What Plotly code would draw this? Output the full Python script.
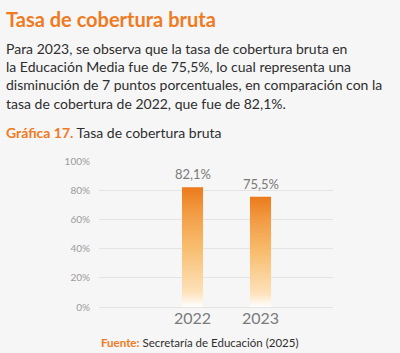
import plotly.graph_objects as go

years = [2022, 2023]
year_labels = ["2022", "2023"]
values = [82.1, 75.5]
value_labels = ["82,1%", "75,5%"]
y_ticks = [0, 20, 40, 60, 80, 100]
y_tick_labels = ["0%", "20%", "40%", "60%", "80%", "100%"]

W, H = 400, 353
L, R, T, B = 99, 67, 160.5, 46
pw, ph = W - L - R, H - T - B

def px(xp):
    return (xp - L) / pw

def py(yp):
    return (H - B - yp) / ph

BG = "#f6f6f6"
ORANGE = "#ef7a22"
half = 0.155

fig = go.Figure()
for x, v in zip(years, values):
    fig.add_trace(go.Scatter(
        x=[x - half, x - half, x + half, x + half, x - half],
        y=[0, v, v, 0, 0],
        mode="lines", line=dict(width=0), fill="toself",
        fillgradient=dict(type="vertical", colorscale=[
            [0.0, "rgba(255,255,255,0.9)"],
            [0.12, "#fde2bb"],
            [0.5, "#f7bd6e"],
            [0.8, "#f29a42"],
            [1.0, "#eb7a1a"],
        ]),
        hoverinfo="skip", showlegend=False,
    ))

anns = []
for x, v, t in zip(years, values, value_labels):
    anns.append(dict(x=x, y=v, xref="x", yref="y", text=t, showarrow=False,
                     xanchor="center", yanchor="bottom", yshift=3,
                     font=dict(family="Lato", size=13, color="#7a7a7a")))

texts = [
    dict(x=px(4), y=py(18), text="<b>Tasa de cobertura bruta</b>",
         font=dict(family="Lato", size=20, color=ORANGE)),
    dict(x=px(4), y=py(75.5),
         text=("Para 2023, se observa que la tasa de cobertura bruta en<br>"
               "la Educación Media fue de 75,5%, lo cual representa una<br>"
               "disminución de 7 puntos porcentuales, en comparación con la<br>"
               "tasa de cobertura de 2022, que fue de 82,1%."),
         align="left", font=dict(family="Lato", size=14, color="#2e2e2e")),
    dict(x=px(4), y=py(131.5),
         text=f"<b><span style='color:{ORANGE}'>Gráfica 17.</span></b> Tasa de cobertura bruta",
         font=dict(family="Lato", size=14, color="#2e2e2e")),
    dict(x=px(200), y=py(343), xanchor="center",
         text=f"<b><span style='color:{ORANGE}'>Fuente:</span></b> Secretaría de Educación (2025)",
         font=dict(family="Lato", size=11.5, color="#2e2e2e")),
]
for a in texts:
    a.setdefault("xanchor", "left")
    a.update(xref="paper", yref="paper", yanchor="middle", showarrow=False)
anns += texts

fig.update_layout(
    width=W, height=H, autosize=False,
    margin=dict(l=L, r=R, t=T, b=B, pad=0),
    paper_bgcolor=BG, plot_bgcolor=BG,
    annotations=anns,
    xaxis=dict(range=[2020.625, 2024.066], tickvals=years, ticktext=year_labels,
               showgrid=False, zeroline=False, showline=False, ticks="",
               tickfont=dict(family="Lato", size=16, color="#7a7a7a"),
               fixedrange=True),
    yaxis=dict(range=[0, 100], tickvals=y_ticks, ticktext=y_tick_labels,
               showgrid=True, gridcolor="#e4e4e4", gridwidth=1,
               zeroline=True, zerolinecolor="#e4e4e4", zerolinewidth=1,
               showline=False, ticks="", ticklabelstandoff=8,
               tickfont=dict(family="Lato", size=10, color="#9a9a9a"),
               fixedrange=True),
)

fig.write_html("out.html")
